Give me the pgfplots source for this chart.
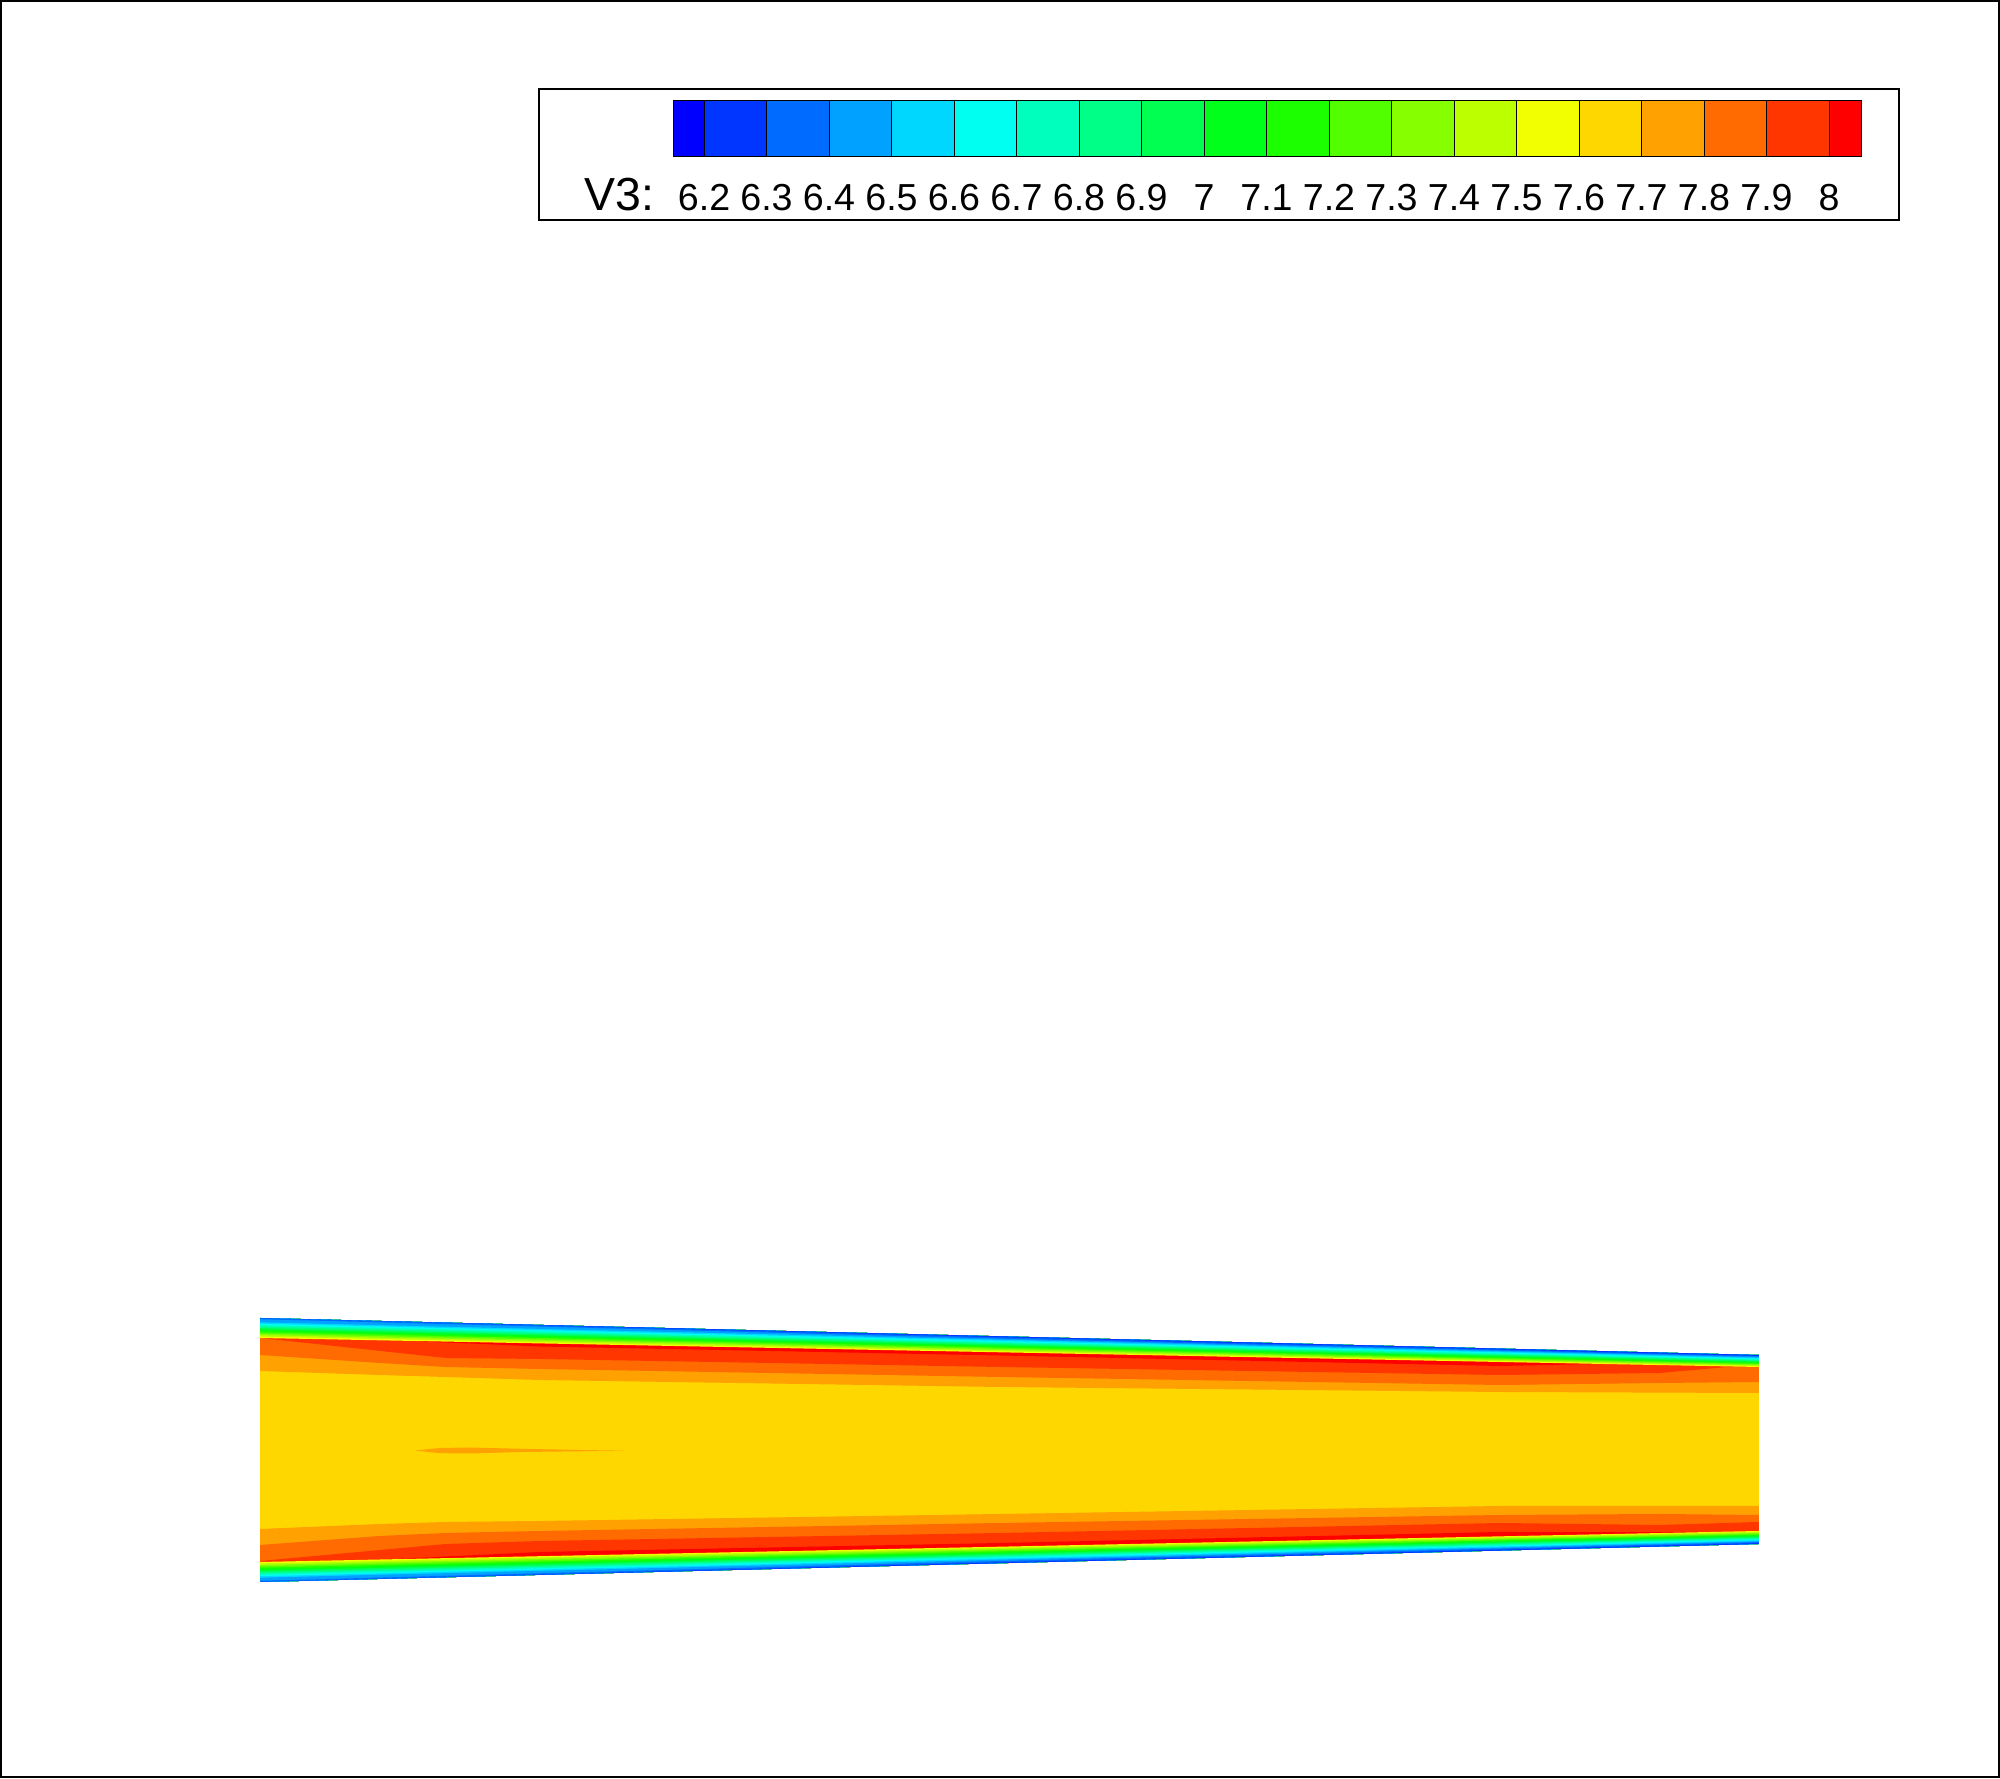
\documentclass[border=0pt]{standalone}
\usepackage{pgfplots}
\pgfplotsset{compat=1.18}
\usepackage{fontspec}
\setmainfont{Liberation Sans}
\definecolor{c0}{HTML}{0000FF}
\definecolor{c1}{HTML}{0036FF}
\definecolor{c2}{HTML}{006BFF}
\definecolor{c3}{HTML}{00A1FF}
\definecolor{c4}{HTML}{00D7FF}
\definecolor{c5}{HTML}{00FFF1}
\definecolor{c6}{HTML}{00FFBC}
\definecolor{c7}{HTML}{00FF86}
\definecolor{c8}{HTML}{00FF51}
\definecolor{c9}{HTML}{00FF1B}
\definecolor{c10}{HTML}{1BFF00}
\definecolor{c11}{HTML}{51FF00}
\definecolor{c12}{HTML}{86FF00}
\definecolor{c13}{HTML}{BCFF00}
\definecolor{c14}{HTML}{F1FF00}
\definecolor{c15}{HTML}{FFD700}
\definecolor{c16}{HTML}{FFA100}
\definecolor{c17}{HTML}{FF6B00}
\definecolor{c18}{HTML}{FF3600}
\definecolor{c19}{HTML}{FF0000}
\begin{document}
\begin{tikzpicture}
\begin{axis}[scale only axis, width=20cm, height=17.78cm,
  xmin=0, xmax=2000, ymin=0, ymax=1778, y dir=reverse,
  hide axis, clip=false]
% ---- channel: core
\addplot[fill=c15, draw=none] coordinates {(260,1318)(1759,1355)(1759,1544)(260,1582)} -- cycle;
% ---- top layers
\addplot[fill=c16, draw=none] coordinates {(260,1318)(1759,1355)(1759,1393)(1500,1392)(1000,1387)(540,1380)(446,1377)(380,1375)(260,1371)} -- cycle;
\addplot[fill=c17, draw=none] coordinates {(260,1318)(1759,1355)(1759,1382)(1660,1383)(1500,1385)(1000,1377)(540,1369)(446,1367)(380,1363)(260,1355)} -- cycle;
\addplot[fill=c18, draw=none] coordinates {(260,1318)(1759,1355)(1759,1367)(1733,1366.5)(1660,1373)(1500,1375)(1000,1367)(540,1359)(446,1358)(260,1338)} -- cycle;
\addplot[fill=c19, draw=none] coordinates {(410,1321.7)(1600,1351.1)(1600,1363.9)(1500,1366)(1000,1355.5)(540,1346.5)(410,1340.9)} -- cycle;
% ---- bottom layers
\addplot[fill=c16, draw=none] coordinates {(260,1582)(1759,1544)(1759,1506)(1500,1506)(1000,1514)(540,1521)(446,1522)(380,1524)(260,1529)} -- cycle;
\addplot[fill=c17, draw=none] coordinates {(260,1582)(1759,1544)(1759,1515)(1660,1514)(1500,1515)(1000,1523)(540,1531)(446,1533)(380,1536)(260,1545)} -- cycle;
\addplot[fill=c18, draw=none] coordinates {(260,1582)(1759,1544)(1759,1522)(1660,1525)(1500,1523)(1000,1533)(540,1541)(446,1544)(260,1561)} -- cycle;
\addplot[fill=c19, draw=none] coordinates {(390,1578.7)(1700,1545.5)(1700,1532.3)(1500,1532)(1000,1543)(540,1552)(390,1559.3)} -- cycle;
% ---- sliver in core
\addplot[fill=c16, draw=none] coordinates {(415,1450.5)(440,1448)(470,1447.5)(520,1448.8)(580,1450)(627,1450.7)(580,1451.3)(520,1452)(470,1453.5)(440,1453.2)} -- cycle;
% ---- top wall rainbow
\addplot[fill=c14, draw=none] coordinates {(260,1318)(1000,1336.3)(1759,1355)(1759,1367.0)(1000,1352.3)(260,1338.0)} -- cycle;
\addplot[fill=c13, draw=none] coordinates {(260,1318)(1000,1336.3)(1759,1355)(1759,1366.1)(1000,1351.2)(260,1336.6)} -- cycle;
\addplot[fill=c12, draw=none] coordinates {(260,1318)(1000,1336.3)(1759,1355)(1759,1365.3)(1000,1350.0)(260,1335.1)} -- cycle;
\addplot[fill=c11, draw=none] coordinates {(260,1318)(1000,1336.3)(1759,1355)(1759,1364.4)(1000,1348.9)(260,1333.7)} -- cycle;
\addplot[fill=c10, draw=none] coordinates {(260,1318)(1000,1336.3)(1759,1355)(1759,1363.6)(1000,1347.7)(260,1332.3)} -- cycle;
\addplot[fill=c9, draw=none] coordinates {(260,1318)(1000,1336.3)(1759,1355)(1759,1362.7)(1000,1346.6)(260,1330.9)} -- cycle;
\addplot[fill=c8, draw=none] coordinates {(260,1318)(1000,1336.3)(1759,1355)(1759,1361.9)(1000,1345.4)(260,1329.4)} -- cycle;
\addplot[fill=c7, draw=none] coordinates {(260,1318)(1000,1336.3)(1759,1355)(1759,1361.0)(1000,1344.3)(260,1328.0)} -- cycle;
\addplot[fill=c6, draw=none] coordinates {(260,1318)(1000,1336.3)(1759,1355)(1759,1360.1)(1000,1343.2)(260,1326.6)} -- cycle;
\addplot[fill=c5, draw=none] coordinates {(260,1318)(1000,1336.3)(1759,1355)(1759,1359.3)(1000,1342.0)(260,1325.1)} -- cycle;
\addplot[fill=c4, draw=none] coordinates {(260,1318)(1000,1336.3)(1759,1355)(1759,1358.4)(1000,1340.9)(260,1323.7)} -- cycle;
\addplot[fill=c3, draw=none] coordinates {(260,1318)(1000,1336.3)(1759,1355)(1759,1357.6)(1000,1339.7)(260,1322.3)} -- cycle;
\addplot[fill=c2, draw=none] coordinates {(260,1318)(1000,1336.3)(1759,1355)(1759,1356.7)(1000,1338.6)(260,1319.2)} -- cycle;
\addplot[fill=c1, draw=none] coordinates {(260,1318)(1000,1336.3)(1759,1355)(1759,1355.9)(1000,1337.2)(260,1318.0)} -- cycle;
% ---- bottom wall rainbow
\addplot[fill=c14, draw=none] coordinates {(260,1582)(1000,1563.2)(1759,1544)(1759,1531.0)(1000,1546.7)(260,1562.0)} -- cycle;
\addplot[fill=c13, draw=none] coordinates {(260,1582)(1000,1563.2)(1759,1544)(1759,1531.9)(1000,1547.9)(260,1563.4)} -- cycle;
\addplot[fill=c12, draw=none] coordinates {(260,1582)(1000,1563.2)(1759,1544)(1759,1532.9)(1000,1549.1)(260,1564.9)} -- cycle;
\addplot[fill=c11, draw=none] coordinates {(260,1582)(1000,1563.2)(1759,1544)(1759,1533.8)(1000,1550.2)(260,1566.3)} -- cycle;
\addplot[fill=c10, draw=none] coordinates {(260,1582)(1000,1563.2)(1759,1544)(1759,1534.7)(1000,1551.4)(260,1567.7)} -- cycle;
\addplot[fill=c9, draw=none] coordinates {(260,1582)(1000,1563.2)(1759,1544)(1759,1535.6)(1000,1552.6)(260,1569.1)} -- cycle;
\addplot[fill=c8, draw=none] coordinates {(260,1582)(1000,1563.2)(1759,1544)(1759,1536.6)(1000,1553.8)(260,1570.6)} -- cycle;
\addplot[fill=c7, draw=none] coordinates {(260,1582)(1000,1563.2)(1759,1544)(1759,1537.5)(1000,1555.0)(260,1572.0)} -- cycle;
\addplot[fill=c6, draw=none] coordinates {(260,1582)(1000,1563.2)(1759,1544)(1759,1538.4)(1000,1556.1)(260,1573.4)} -- cycle;
\addplot[fill=c5, draw=none] coordinates {(260,1582)(1000,1563.2)(1759,1544)(1759,1539.4)(1000,1557.3)(260,1574.9)} -- cycle;
\addplot[fill=c4, draw=none] coordinates {(260,1582)(1000,1563.2)(1759,1544)(1759,1540.3)(1000,1558.5)(260,1576.3)} -- cycle;
\addplot[fill=c3, draw=none] coordinates {(260,1582)(1000,1563.2)(1759,1544)(1759,1541.2)(1000,1559.7)(260,1577.7)} -- cycle;
\addplot[fill=c2, draw=none] coordinates {(260,1582)(1000,1563.2)(1759,1544)(1759,1542.1)(1000,1561.0)(260,1580.8)} -- cycle;
\addplot[fill=c1, draw=none] coordinates {(260,1582)(1000,1563.2)(1759,1544)(1759,1543.1)(1000,1562.4)(260,1582.0)} -- cycle;
% ---- legend box
\addplot[draw=black, line width=0.4pt, fill=white] coordinates {(539,89)(1899,89)(1899,220)(539,220)} -- cycle;
% ---- colour bar cells
\addplot[fill=c0, draw=black, line width=0.25pt] coordinates {(673,100)(704,100)(704,156)(673,156)} -- cycle;
\addplot[fill=c1, draw=black, line width=0.25pt] coordinates {(704,100)(766.5,100)(766.5,156)(704,156)} -- cycle;
\addplot[fill=c2, draw=black, line width=0.25pt] coordinates {(766.5,100)(829,100)(829,156)(766.5,156)} -- cycle;
\addplot[fill=c3, draw=black, line width=0.25pt] coordinates {(829,100)(891.5,100)(891.5,156)(829,156)} -- cycle;
\addplot[fill=c4, draw=black, line width=0.25pt] coordinates {(891.5,100)(954,100)(954,156)(891.5,156)} -- cycle;
\addplot[fill=c5, draw=black, line width=0.25pt] coordinates {(954,100)(1016.5,100)(1016.5,156)(954,156)} -- cycle;
\addplot[fill=c6, draw=black, line width=0.25pt] coordinates {(1016.5,100)(1079,100)(1079,156)(1016.5,156)} -- cycle;
\addplot[fill=c7, draw=black, line width=0.25pt] coordinates {(1079,100)(1141.5,100)(1141.5,156)(1079,156)} -- cycle;
\addplot[fill=c8, draw=black, line width=0.25pt] coordinates {(1141.5,100)(1204,100)(1204,156)(1141.5,156)} -- cycle;
\addplot[fill=c9, draw=black, line width=0.25pt] coordinates {(1204,100)(1266.5,100)(1266.5,156)(1204,156)} -- cycle;
\addplot[fill=c10, draw=black, line width=0.25pt] coordinates {(1266.5,100)(1329,100)(1329,156)(1266.5,156)} -- cycle;
\addplot[fill=c11, draw=black, line width=0.25pt] coordinates {(1329,100)(1391.5,100)(1391.5,156)(1329,156)} -- cycle;
\addplot[fill=c12, draw=black, line width=0.25pt] coordinates {(1391.5,100)(1454,100)(1454,156)(1391.5,156)} -- cycle;
\addplot[fill=c13, draw=black, line width=0.25pt] coordinates {(1454,100)(1516.5,100)(1516.5,156)(1454,156)} -- cycle;
\addplot[fill=c14, draw=black, line width=0.25pt] coordinates {(1516.5,100)(1579,100)(1579,156)(1516.5,156)} -- cycle;
\addplot[fill=c15, draw=black, line width=0.25pt] coordinates {(1579,100)(1641.5,100)(1641.5,156)(1579,156)} -- cycle;
\addplot[fill=c16, draw=black, line width=0.25pt] coordinates {(1641.5,100)(1704,100)(1704,156)(1641.5,156)} -- cycle;
\addplot[fill=c17, draw=black, line width=0.25pt] coordinates {(1704,100)(1766.5,100)(1766.5,156)(1704,156)} -- cycle;
\addplot[fill=c18, draw=black, line width=0.25pt] coordinates {(1766.5,100)(1829,100)(1829,156)(1766.5,156)} -- cycle;
\addplot[fill=c19, draw=black, line width=0.25pt] coordinates {(1829,100)(1861,100)(1861,156)(1829,156)} -- cycle;
% ---- legend labels
\node[anchor=base west, inner sep=0pt, font=\fontsize{13.2}{15}\selectfont] at (axis cs:584,210) {V3:};
\begin{scope}[every node/.style={anchor=base, font=\fontsize{10.7}{12}\selectfont, inner sep=0pt}]
\node at (axis cs:704,210) {6.2};
\node at (axis cs:766.5,210) {6.3};
\node at (axis cs:829,210) {6.4};
\node at (axis cs:891.5,210) {6.5};
\node at (axis cs:954,210) {6.6};
\node at (axis cs:1016.5,210) {6.7};
\node at (axis cs:1079,210) {6.8};
\node at (axis cs:1141.5,210) {6.9};
\node at (axis cs:1204,210) {7};
\node at (axis cs:1266.5,210) {7.1};
\node at (axis cs:1329,210) {7.2};
\node at (axis cs:1391.5,210) {7.3};
\node at (axis cs:1454,210) {7.4};
\node at (axis cs:1516.5,210) {7.5};
\node at (axis cs:1579,210) {7.6};
\node at (axis cs:1641.5,210) {7.7};
\node at (axis cs:1704,210) {7.8};
\node at (axis cs:1766.5,210) {7.9};
\node at (axis cs:1829,210) {8};
\end{scope}
% ---- outer frame
\draw[black, line width=0.6pt] (axis cs:1,1) rectangle (axis cs:1999,1777);
\end{axis}
\end{tikzpicture}
\end{document}
